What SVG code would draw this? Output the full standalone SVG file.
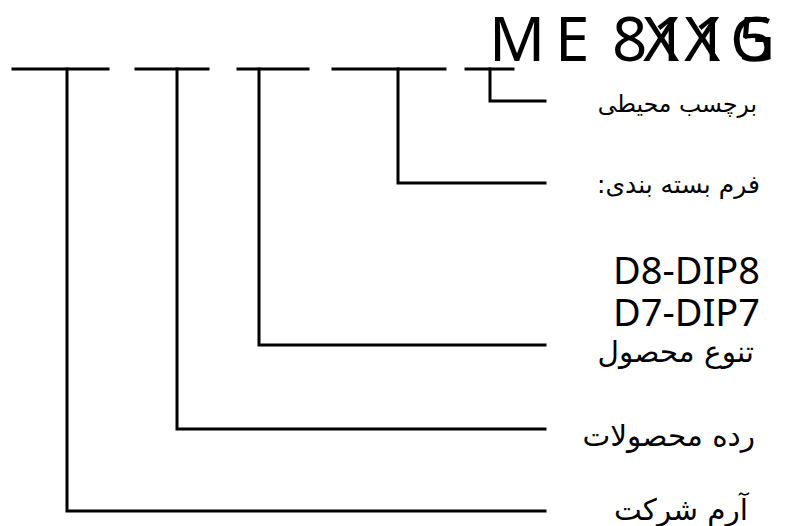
<svg xmlns="http://www.w3.org/2000/svg" width="786" height="526" viewBox="0 0 786 526">
<style>
.ln{fill:none;stroke:#000;stroke-width:3;stroke-linecap:square;stroke-linejoin:miter}
.t{font-family:"Noto Sans","DejaVu Sans",sans-serif;fill:#000}
.fa{font-family:"DejaVu Sans","Noto Sans",sans-serif;fill:#000;direction:rtl;unicode-bidi:embed;text-anchor:start}
.code{font-family:"Noto Sans","DejaVu Sans",sans-serif;fill:#000;text-anchor:end;font-size:38px}
</style>
<rect width="786" height="526" fill="#fff"/>
<g id="title" class="t" font-size="62">
<text x="489" y="61">M</text>
<text x="555" y="61">E</text>
<text x="612" y="61">8</text>
<text x="643" y="61">X</text>
<text x="652" y="61">1</text>
<text x="684" y="61">X</text>
<text x="693" y="61">1</text>
<text x="730" y="61">G</text>
<text x="738" y="61">5</text>
</g>
<g id="connectors">
<path class="ln" d="M13,69 H108"/>
<path class="ln" d="M136,69 H208"/>
<path class="ln" d="M238,69 H308"/>
<path class="ln" d="M333,69 H445"/>
<path class="ln" d="M466,69 H513"/>
<path class="ln" d="M490,69 V101 H545"/>
<path class="ln" d="M398,69 V183 H545"/>
<path class="ln" d="M259,69 V345 H545"/>
<path class="ln" d="M177,69 V429 H545"/>
<path class="ln" d="M67,69 V511 H545"/>
</g>
<g id="label-ambient"><text class="fa" x="757" y="112" font-size="23.5">برچسب محیطی</text></g>
<g id="label-package"><text class="fa" x="760" y="193" font-size="25">فرم بسته بندی:</text></g>
<g id="code-d8"><text class="code" x="760" y="284">D8-DIP8</text></g>
<g id="code-d7"><text class="code" x="760" y="326">D7-DIP7</text></g>
<g id="label-variant"><text class="fa" x="754" y="362" font-size="29.5">تنوع محصول</text></g>
<g id="label-range"><text class="fa" x="755" y="446" font-size="29.5">رده محصولات</text></g>
<g id="label-logo"><text class="fa" x="748" y="520" font-size="29.5">آرم شرکت</text></g>
</svg>
